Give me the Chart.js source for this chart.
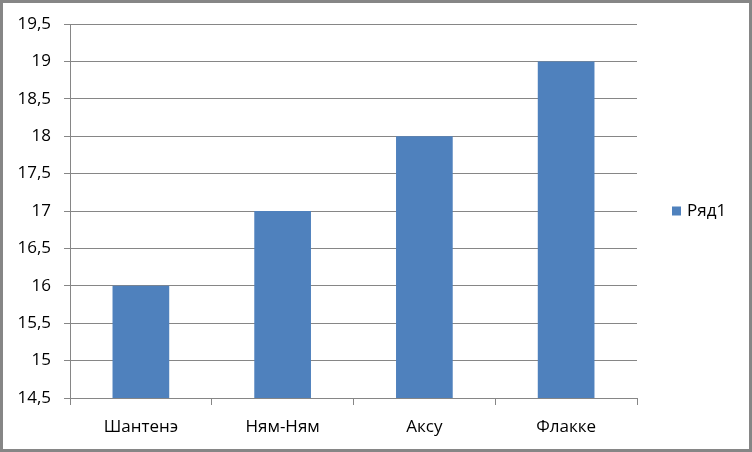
<!DOCTYPE html>
<html>
<head>
<meta charset="utf-8">
<script src="https://cdn.jsdelivr.net/npm/chart.js@4/dist/chart.umd.min.js"></script>
<style>
    html, body { margin: 0; padding: 0; background: #fff; }
    #wrap { width: 752px; height: 452px; position: relative; }
</style>
</head>
<body>
<div id="wrap"><canvas id="chart" width="752" height="452"></canvas></div>
<script>
/*
    bar chart: four brands, one series (Ряд1)
*/
const categories = ["Шантенэ", "Ням-Ням", "Аксу", "Флакке"];
const seriesName = "Ряд1";
const seriesValues = [16, 17, 18, 19];
const yMin = 14.5;
const yMax = 19.5;
const yStep = 0.5;

const barColor = "#4F81BD";
const gridColor = "#868686";
const fontFamily = "'Open Sans', 'Liberation Sans', sans-serif";

// outer frame of the chart object
const framePlugin = {
    id: "frame",
    beforeDraw(chart) {
        const ctx = chart.ctx;
        ctx.save();
        ctx.fillStyle = "#fff";
        ctx.fillRect(0, 0, chart.width, chart.height);
        ctx.restore();
    },
    afterDraw(chart) {
        const ctx = chart.ctx;
        ctx.save();
        ctx.strokeStyle = "#868686";
        ctx.lineWidth = 3;
        ctx.strokeRect(1.5, 1.5, chart.width - 3, chart.height - 3);
        ctx.restore();
    }
};

// legend on the right, drawn by hand so the plot area stays where it is
const sideLegend = {
    id: "sideLegend",
    afterDraw(chart) {
        const ctx = chart.ctx;
        const ds = chart.data.datasets[0];
        const x = 672, y = chart.chartArea.top + (chart.chartArea.bottom - chart.chartArea.top) / 2;
        ctx.save();
        ctx.fillStyle = ds.backgroundColor;
        ctx.fillRect(x, y - 4.5, 9, 9);
        ctx.fillStyle = "#000";
        ctx.font = "17px " + fontFamily;
        ctx.textBaseline = "middle";
        ctx.textAlign = "left";
        ctx.fillText(ds.label, x + 15, y);
        ctx.restore();
    }
};

const chart = new Chart("chart", {
    type: "bar",
    data: {
        labels: categories,
        datasets: [{
            label: seriesName,
            data: seriesValues,
            backgroundColor: barColor,
            borderWidth: 0,
            barPercentage: 0.4,
            categoryPercentage: 1.0
        }]
    },
    options: {
        responsive: false,
        animation: false,
        layout: { padding: { top: 24, right: 115, bottom: 0, left: 0 } },
        plugins: {
            legend: { display: false },
            tooltip: { enabled: false }
        },
        scales: {
            x: {
                grid: {
                    offset: true,
                    drawOnChartArea: false,
                    drawTicks: true,
                    tickLength: 7,
                    color: gridColor
                },
                border: { color: gridColor },
                ticks: {
                    color: "#000",
                    padding: 12,
                    font: { family: fontFamily, size: 17 }
                },
                afterFit(scale) { scale.height = 54; }
            },
            y: {
                min: yMin,
                max: yMax,
                grid: {
                    color: gridColor,
                    tickLength: 6
                },
                border: { color: gridColor },
                ticks: {
                    stepSize: yStep,
                    color: "#000",
                    padding: 13,
                    font: { family: fontFamily, size: 17 },
                    callback: v => String(v).replace(".", ",")
                },
                afterFit(scale) { scale.width = 70; }
            }
        }
    },
    plugins: [framePlugin, sideLegend]
});
</script>
</body>
</html>
